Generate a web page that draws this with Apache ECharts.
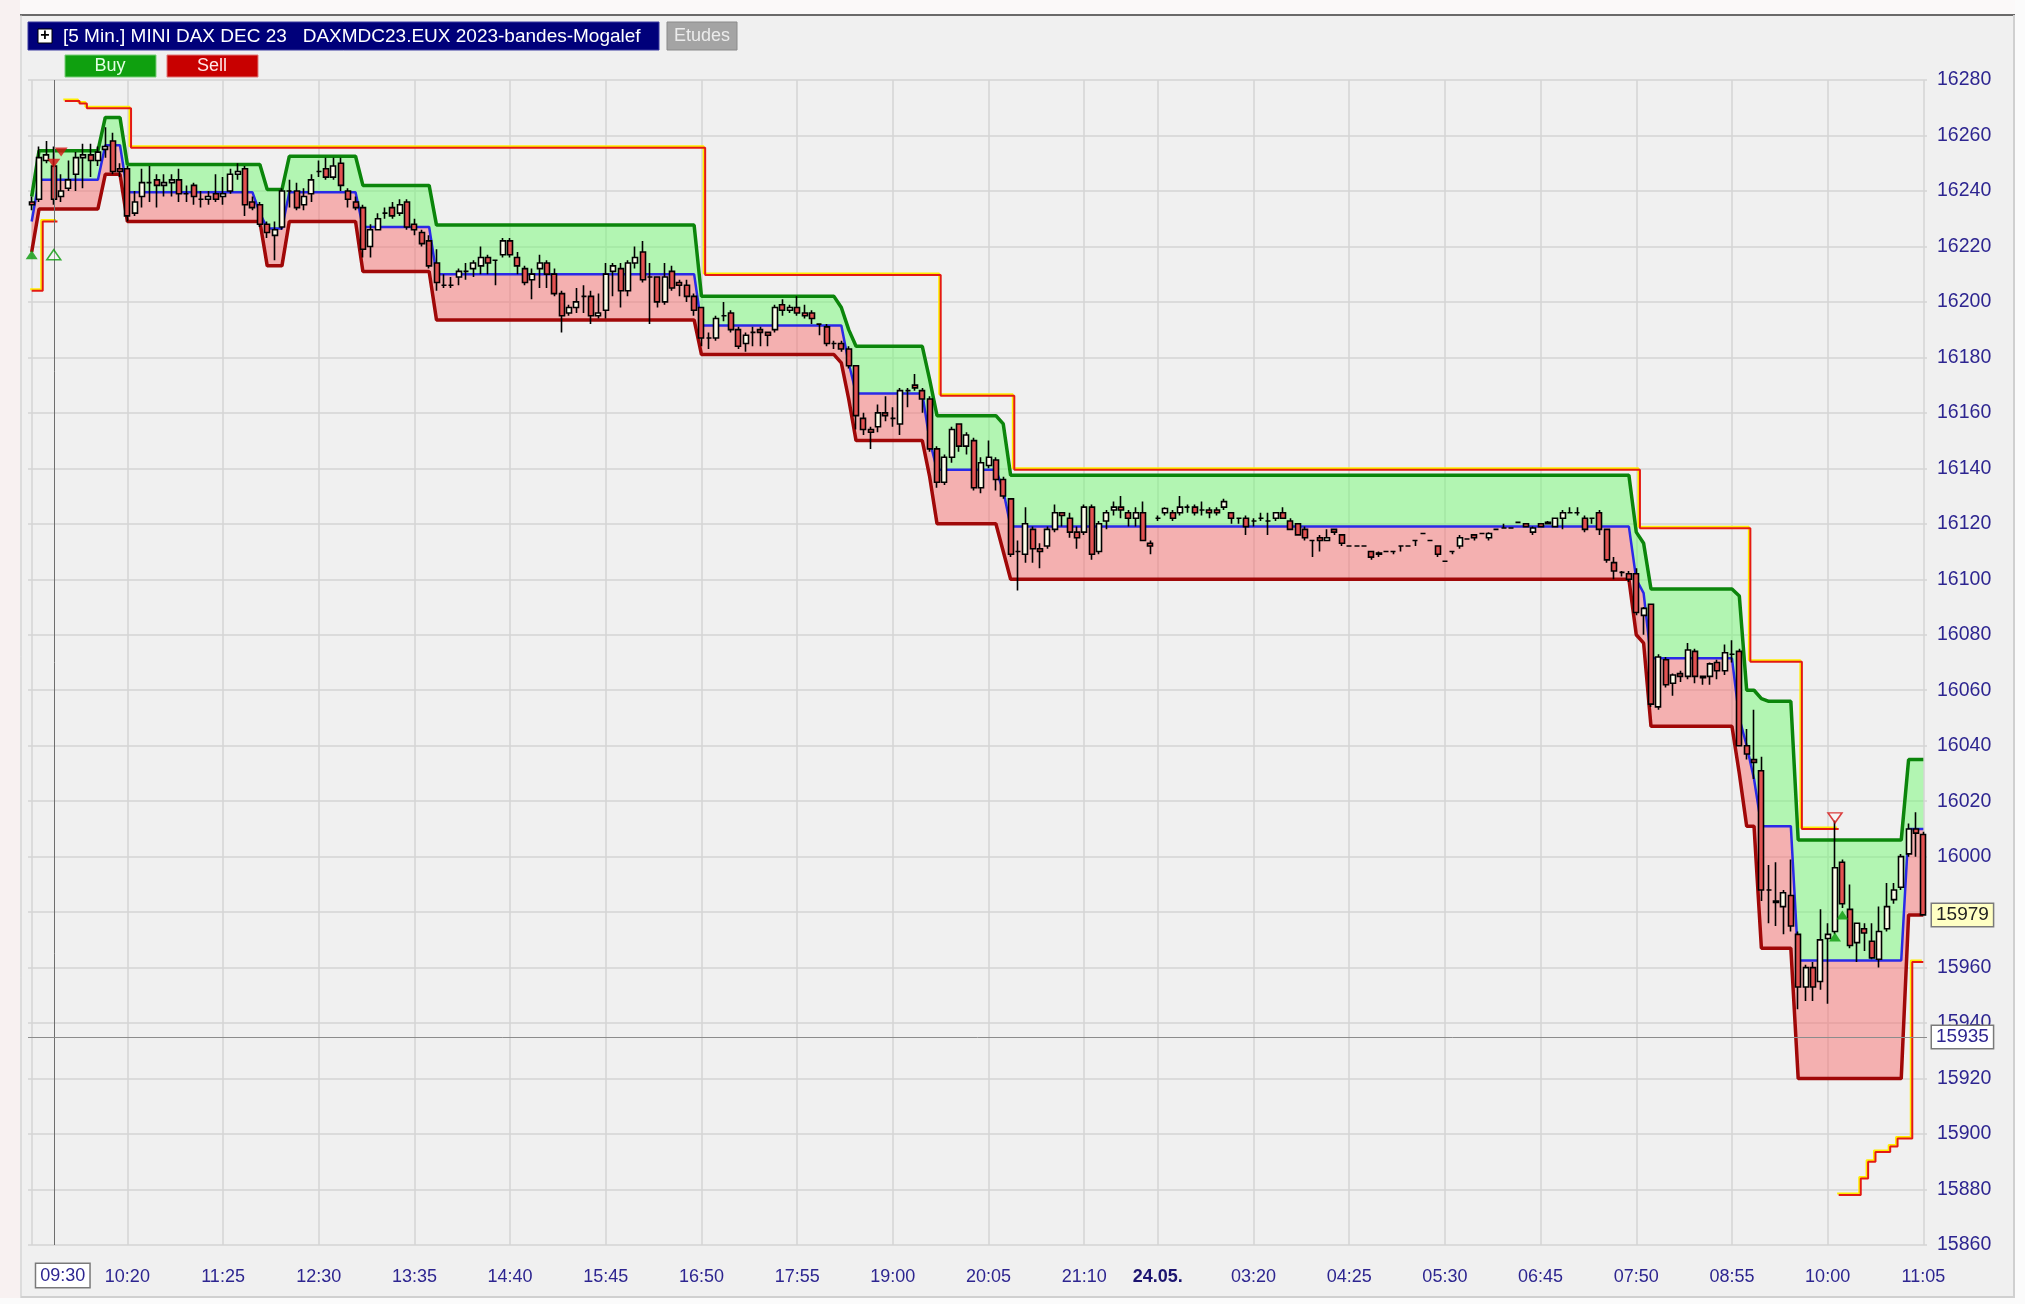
<!DOCTYPE html>
<html lang="fr">
<head>
<meta charset="UTF-8">
<title>MINI DAX DEC 23 - bandes Mogalef</title>
<script src="https://cdn.jsdelivr.net/npm/echarts@6/dist/echarts.min.js"></script>
<style>
    html, body {
        margin: 0;
        padding: 0;
        background: #f7f4f4;
    }

    #chart {
        width: 2025px;
        height: 1304px;
    }
</style>
</head>
<body>
<div id="chart"></div>
<script>
    // 5 min sessions: [first bar, number of bars]
    const sessions = [['09:15', 153], ['02:15', 40], ['05:45', 65]];
    const labelBars = [13, 26, 39, 52, 65, 78, 91, 104, 117, 130, 143, 153, 166, 179, 192, 205, 218, 231, 244, 257];
    const gridBars = [0].concat(labelBars);
    const dateBar = 153;
    const dateLabel = '24.05.';

    // candles: [open, close, low, high]
    const candlesMorning = [
        [16236, 16235, 16233, 16238], [16237, 16252, 16236, 16256], [16251, 16253, 16250, 16258], [16249, 16237, 16235, 16256],
        [16238, 16240, 16236, 16246], [16241, 16244, 16240, 16251], [16246, 16252, 16240, 16254], [16252, 16253, 16241, 16257],
        [16253, 16251, 16245, 16257], [16251, 16254, 16249, 16256], [16255, 16256, 16252, 16263], [16258, 16247, 16246, 16261],
        [16248, 16247, 16245, 16250], [16248, 16231, 16229, 16249], [16232, 16236, 16231, 16240], [16238, 16243, 16234, 16248],
        [16243, 16243, 16236, 16249], [16244, 16242, 16234, 16246], [16242, 16243, 16238, 16246], [16243, 16244, 16238, 16246],
        [16244, 16239, 16236, 16248], [16239, 16239, 16236, 16242], [16242, 16238, 16235, 16243], [16237, 16237, 16234, 16240],
        [16237, 16238, 16235, 16240], [16239, 16237, 16236, 16246], [16238, 16239, 16235, 16245], [16240, 16246, 16239, 16248],
        [16246, 16247, 16244, 16250], [16248, 16235, 16231, 16249], [16236, 16234, 16233, 16238], [16235, 16228, 16227, 16236],
        [16228, 16225, 16223, 16229], [16224, 16226, 16215, 16229], [16227, 16240, 16226, 16241], [16240, 16240, 16234, 16244],
        [16240, 16234, 16233, 16243], [16235, 16238, 16233, 16241], [16239, 16244, 16236, 16246], [16247, 16247, 16245, 16251],
        [16248, 16245, 16244, 16252], [16245, 16249, 16244, 16252], [16250, 16242, 16240, 16252], [16240, 16237, 16234, 16241],
        [16236, 16234, 16233, 16238], [16234, 16219, 16216, 16235], [16220, 16226, 16216, 16228], [16226, 16230, 16226, 16232],
        [16232, 16232, 16230, 16234], [16234, 16231, 16230, 16236], [16232, 16235, 16231, 16237], [16236, 16227, 16226, 16237],
        [16228, 16226, 16224, 16230], [16225, 16221, 16220, 16226], [16222, 16213, 16212, 16224], [16214, 16207, 16204, 16219],
        [16206, 16206, 16205, 16210], [16206, 16206, 16205, 16209], [16209, 16211, 16206, 16212], [16211, 16211, 16208, 16214],
        [16212, 16214, 16209, 16215], [16213, 16216, 16210, 16220], [16216, 16214, 16210, 16217], [16215, 16215, 16206, 16215],
        [16217, 16222, 16216, 16223], [16222, 16217, 16216, 16223], [16216, 16213, 16210, 16218], [16212, 16207, 16206, 16213],
        [16208, 16210, 16201, 16212], [16212, 16214, 16205, 16217], [16214, 16210, 16205, 16215], [16210, 16203, 16202, 16212],
        [16203, 16195, 16189, 16204], [16196, 16198, 16195, 16199], [16198, 16200, 16196, 16205], [16202, 16202, 16196, 16206],
        [16202, 16195, 16192, 16204]
    ];
    const candlesEvening = [
        [16195, 16196, 16194, 16203], [16197, 16210, 16194, 16214], [16211, 16213, 16202, 16214], [16212, 16204, 16198, 16214],
        [16204, 16214, 16202, 16215], [16214, 16216, 16212, 16220], [16218, 16208, 16207, 16222], [16209, 16209, 16192, 16214],
        [16209, 16200, 16198, 16209], [16200, 16209, 16199, 16214], [16211, 16205, 16204, 16213], [16207, 16206, 16202, 16208],
        [16206, 16202, 16200, 16208], [16202, 16197, 16195, 16203], [16198, 16187, 16184, 16198], [16187, 16187, 16183, 16189],
        [16187, 16194, 16186, 16195], [16195, 16195, 16193, 16200], [16196, 16190, 16189, 16197], [16190, 16184, 16183, 16191],
        [16185, 16188, 16182, 16189], [16189, 16189, 16184, 16191], [16190, 16189, 16184, 16191], [16189, 16188, 16184, 16189],
        [16190, 16198, 16189, 16199], [16199, 16197, 16195, 16201], [16197, 16198, 16196, 16199], [16198, 16196, 16195, 16202],
        [16196, 16195, 16194, 16199], [16196, 16194, 16192, 16197], [16192, 16192, 16188, 16192], [16191, 16185, 16184, 16192],
        [16185, 16185, 16183, 16186], [16185, 16183, 16182, 16186], [16183, 16177, 16176, 16184], [16177, 16159, 16154, 16177],
        [16158, 16154, 16152, 16160], [16154, 16153, 16147, 16155], [16155, 16160, 16153, 16163], [16160, 16159, 16157, 16166],
        [16158, 16158, 16155, 16162], [16156, 16168, 16152, 16169], [16168, 16168, 16162, 16169], [16170, 16169, 16168, 16174],
        [16168, 16165, 16160, 16169], [16165, 16147, 16146, 16166], [16147, 16135, 16133, 16148], [16135, 16144, 16134, 16145],
        [16144, 16154, 16142, 16155], [16156, 16148, 16146, 16156], [16148, 16152, 16145, 16153], [16150, 16133, 16132, 16151],
        [16133, 16142, 16131, 16144], [16141, 16144, 16140, 16150], [16143, 16136, 16132, 16144], [16136, 16130, 16129, 16137],
        [16129, 16109, 16108, 16129], [16110, 16110, 16096, 16114], [16109, 16120, 16106, 16126], [16118, 16111, 16106, 16119],
        [16111, 16110, 16104, 16113], [16112, 16118, 16111, 16119], [16118, 16124, 16117, 16127], [16124, 16123, 16119, 16124],
        [16122, 16117, 16115, 16124], [16117, 16115, 16111, 16119], [16117, 16126, 16116, 16127], [16126, 16109, 16107, 16127],
        [16110, 16120, 16109, 16121], [16121, 16124, 16118, 16125], [16125, 16126, 16123, 16128], [16126, 16125, 16122, 16130],
        [16124, 16122, 16119, 16125], [16122, 16124, 16119, 16126], [16124, 16114, 16114, 16128], [16113, 16112, 16109, 16114]
    ];
    const candlesNight = [
        [16122, 16122, 16121, 16123], [16124, 16125.5, 16123, 16126], [16124, 16122, 16121, 16125], [16124, 16126, 16123, 16130],
        [16126, 16126, 16124, 16127], [16126, 16124, 16123, 16127], [16125, 16125, 16123, 16128], [16125, 16124, 16122, 16126],
        [16125, 16124, 16123, 16126], [16126, 16128, 16125, 16129], [16124, 16122, 16120, 16124], [16122, 16122, 16120, 16122],
        [16122, 16119, 16116, 16123], [16121, 16121, 16119, 16122], [16122, 16122, 16121, 16124], [16121, 16121, 16116, 16124],
        [16122, 16124, 16121, 16124], [16124, 16122, 16122, 16126], [16121, 16118, 16118, 16122], [16120, 16116, 16116, 16120],
        [16118, 16115, 16114, 16119], [16114, 16114, 16108, 16114], [16115, 16114, 16110, 16116], [16114, 16115, 16114, 16118],
        [16118, 16117, 16116, 16118], [16116, 16113, 16112, 16116], [16112, 16112, 16112, 16112], [16112, 16112, 16112, 16112],
        [16112, 16112, 16112, 16112], [16110, 16108, 16107, 16110], [16109.5, 16109, 16108, 16110], [16110, 16110, 16110, 16110],
        [16110, 16110, 16109, 16110], [16112, 16112, 16110, 16112], [16112, 16112, 16112, 16112], [16114, 16114, 16112, 16114],
        [16116.5, 16116.5, 16116.5, 16116.5], [16114, 16114, 16114, 16114], [16112, 16109, 16108, 16112], [16106.5, 16106.5, 16106.5, 16106.5],
        [16110, 16110, 16109, 16110], [16112, 16115, 16111, 16116], [16114.5, 16114.5, 16114.5, 16114.5], [16116, 16115, 16114, 16116],
        [16116.5, 16116.5, 16116.5, 16116.5], [16115, 16116.5, 16114, 16117], [16118, 16118, 16118, 16118], [16118.5, 16118.5, 16118.5, 16120],
        [16118.5, 16118.5, 16118.5, 16118.5], [16120.5, 16120.5, 16120.5, 16120.5], [16120, 16119, 16119, 16120], [16117, 16118.5, 16116, 16119]
    ];
    const candlesNextDay = [
        [16120, 16119, 16119, 16120], [16120, 16120.5, 16120, 16121], [16119, 16122, 16119, 16122], [16122, 16124, 16118, 16125],
        [16124, 16124, 16124, 16126], [16124, 16124, 16123, 16126], [16122, 16118, 16117, 16123], [16122, 16122, 16120, 16122],
        [16124, 16118, 16116, 16125], [16118, 16107, 16106, 16118], [16106, 16103, 16100, 16108], [16102.5, 16102.5, 16101, 16103],
        [16102, 16100, 16099, 16103], [16102, 16088, 16087, 16104], [16087, 16089.5, 16080, 16090], [16091, 16055, 16054, 16091],
        [16054, 16072, 16053, 16073], [16071, 16062, 16061, 16072], [16062.5, 16065.5, 16058, 16066], [16066, 16065, 16063, 16067],
        [16065, 16074.5, 16064, 16077], [16074, 16065, 16062.5, 16075], [16065, 16064.5, 16062, 16065], [16065, 16069.5, 16062, 16070],
        [16070, 16067, 16064, 16071], [16067, 16073.5, 16065.5, 16076.5], [16073, 16073, 16070, 16078], [16074, 16040, 16040, 16075],
        [16040, 16037, 16035, 16046], [16035, 16034, 16028, 16053], [16031, 15988, 15984, 16036], [15988, 15988, 15976, 15997],
        [15984, 15983.5, 15975, 15998], [15982, 15987, 15972, 15988], [15986, 15975, 15973, 15999], [15972, 15953, 15945, 15973],
        [15953, 15960, 15948, 15961], [15960, 15953, 15948, 15962], [15955, 15970, 15952, 15981], [15970.5, 15972, 15947, 15976],
        [15973, 15996, 15972, 16013], [15998, 15983, 15981.5, 15999], [15981, 15968, 15967, 15990], [15969, 15976, 15962, 15976],
        [15974, 15972.5, 15966, 15976], [15969.5, 15963.5, 15963, 15976], [15963, 15973, 15960, 15982], [15974, 15982, 15973, 15990.5],
        [15984.5, 15988, 15983, 15990.5], [15989, 16000, 15988, 16001], [16001, 16010, 16000, 16012], [16010, 16008.5, 16000, 16016],
        [16008, 15979, 15979, 16009]
    ];

    // Mogalef bands, as runs [first bar, last bar, value]
    const upperRuns = [
        [0, 0, 16238], [1, 9, 16254.5], [10, 12, 16266.5], [13, 31, 16249.5], [32, 34, 16240.5], [35, 44, 16252.5],
        [45, 54, 16242], [55, 90, 16227.7], [91, 109, 16202], [110, 110, 16198], [111, 111, 16190], [112, 121, 16184],
        [122, 122, 16172], [123, 131, 16159], [132, 132, 16156], [133, 217, 16137.5], [218, 218, 16117], [219, 219, 16113],
        [220, 231, 16096.5], [232, 232, 16094], [233, 234, 16060], [235, 235, 16057], [236, 239, 16056], [240, 254, 16006],
        [255, 257, 16035]
    ];
    const middleRuns = [
        [0, 0, 16229], [1, 9, 16244], [10, 12, 16256.5], [13, 30, 16239.5], [31, 31, 16232], [32, 34, 16226.5],
        [35, 44, 16239.5], [45, 54, 16227], [55, 90, 16210], [91, 110, 16191.5], [111, 111, 16178], [112, 121, 16167],
        [122, 122, 16150], [123, 131, 16139.5], [132, 132, 16132], [133, 217, 16119], [218, 218, 16100], [219, 219, 16095],
        [220, 231, 16071.5], [232, 232, 16050], [233, 233, 16040], [234, 234, 16028], [235, 239, 16011], [240, 254, 15962.6],
        [255, 257, 16010]
    ];
    const lowerRuns = [
        [0, 0, 16218], [1, 9, 16233.5], [10, 12, 16246], [13, 31, 16229], [32, 34, 16213], [35, 44, 16229],
        [45, 54, 16211], [55, 90, 16193.5], [91, 109, 16181], [110, 110, 16178], [111, 111, 16165], [112, 121, 16150],
        [122, 122, 16137], [123, 131, 16120], [132, 132, 16110], [133, 217, 16100], [218, 218, 16080], [219, 219, 16077],
        [220, 231, 16047], [232, 232, 16030], [233, 234, 16011], [235, 239, 15967], [240, 254, 15920], [255, 257, 15979]
    ];

    // trailing stop, one list per unbroken piece
    const stopRuns = [
        [[0, 1, 16204], [2, 3, 16229]],
        [[5, 6, 16272.4], [7, 7, 16271.5], [8, 13, 16269.8], [14, 91, 16255.6], [92, 123, 16209.7], [124, 133, 16166.2],
            [134, 218, 16139.5], [219, 233, 16118.4], [234, 240, 16070.3], [241, 245, 16010]],
        [[246, 248, 15878], [249, 249, 15884], [250, 250, 15890], [251, 252, 15893.5], [253, 253, 15895.5],
            [254, 255, 15898.4], [256, 257, 15962]]
    ];

    const buyFilled = [[0, 16217], [246, 15979], [245, 15971]];
    const buyHollow = [[3, 16217]];
    const sellFilled = [[4, 16254], [3, 16250]];
    const sellHollow = [[245, 16014]];

    const cursorBar = 3;
    const cursorPrice = 15935;
    const lastPrice = 15979;

    function pad(n) {
        return (n < 10 ? '0' : '') + n;
    }

    const times = [];
    sessions.forEach(function (s) {
        const parts = s[0].split(':');
        const t0 = Number(parts[0]) * 60 + Number(parts[1]);
        for (let k = 0; k < s[1]; k++) {
            const t = (t0 + 5 * k) % 1440;
            times.push(pad(Math.floor(t / 60)) + ':' + pad(t % 60));
        }
    });

    const candles = candlesMorning.concat(candlesEvening, candlesNight, candlesNextDay);
    const nBars = candles.length;

    function expand(runs) {
        const out = new Array(nBars).fill(null);
        runs.forEach(function (r) {
            for (let i = r[0]; i <= r[1]; i++) out[i] = r[2];
        });
        return out;
    }

    const upper = expand(upperRuns);
    const middle = expand(middleRuns);
    const lower = expand(lowerRuns);
    const pinkPart = middle.map((v, i) => v - lower[i]);
    const greenPart = upper.map((v, i) => v - middle[i]);

    const labelSet = new Set(labelBars);
    const txt = '#2d2590';
    const font = '"Liberation Sans", Arial, sans-serif';

    const stopSeries = stopRuns.map(function (runs) {
        return {
            type: 'line',
            data: expand(runs),
            step: 'middle',
            symbol: 'none',
            connectNulls: false,
            lineStyle: {
                color: '#e41a12', width: 2,
                shadowColor: '#ffee00', shadowBlur: 0, shadowOffsetX: -1.5, shadowOffsetY: -1.5
            },
            z: 3
        };
    });

    const chart = echarts.init(document.getElementById('chart'));
    chart.setOption({
        animation: false,
        backgroundColor: '#f0f0f0',
        textStyle: {fontFamily: font},
        grid: {left: 28, right: 98, top: 80, bottom: 59},
        xAxis: {
            type: 'category',
            data: times,
            boundaryGap: true,
            axisLine: {show: false},
            axisTick: {show: false},
            splitLine: {show: false},
            axisLabel: {
                interval: (i) => labelSet.has(i),
                margin: 23,
                color: txt,
                fontSize: 18,
                fontFamily: font,
                formatter: (v, i) => i === dateBar ? '{d|' + dateLabel + '}' : v,
                rich: {d: {fontWeight: 'bold', fontSize: 18, color: '#1c1470', fontFamily: font}}
            }
        },
        yAxis: {
            type: 'value',
            position: 'right',
            min: 15860,
            max: 16280,
            interval: 20,
            axisLine: {show: false},
            axisTick: {show: false},
            axisLabel: {margin: 10, color: txt, fontSize: 19.5, fontFamily: font, formatter: (v) => String(v)},
            splitLine: {lineStyle: {color: '#d5d5d5', width: 1.5}}
        },
        graphic: [
            {type: 'rect', shape: {x: 0, y: 0, width: 2025, height: 14}, style: {fill: '#fbf9f9'}, silent: true},
            {type: 'rect', shape: {x: 0, y: 0, width: 20, height: 1304}, style: {fill: '#f8f1f1'}, silent: true},
            {type: 'rect', shape: {x: 2015, y: 0, width: 10, height: 1304}, style: {fill: '#fbfbfb'}, silent: true},
            {type: 'rect', shape: {x: 0, y: 1298, width: 2025, height: 6}, style: {fill: '#fbfbfb'}, silent: true},
            {type: 'line', shape: {x1: 20, y1: 15, x2: 2015, y2: 15}, style: {stroke: '#6a6a6a', lineWidth: 2}, silent: true},
            {type: 'line', shape: {x1: 21, y1: 15, x2: 21, y2: 1298}, style: {stroke: '#c8c8c8', lineWidth: 1}, silent: true},
            {type: 'line', shape: {x1: 2014, y1: 15, x2: 2014, y2: 1298}, style: {stroke: '#d0d0d0', lineWidth: 2}, silent: true},
            {type: 'line', shape: {x1: 21, y1: 1297, x2: 2015, y2: 1297}, style: {stroke: '#d0d0d0', lineWidth: 2}, silent: true},
            {type: 'rect', shape: {x: 28, y: 22, width: 631, height: 28}, style: {fill: '#00007a', stroke: '#3a3aa0', lineWidth: 1}},
            {type: 'rect', shape: {x: 38, y: 29, width: 14, height: 14}, style: {fill: '#ffffff', stroke: '#000000', lineWidth: 1}},
            {type: 'text', x: 45, y: 36, style: {text: '+', fill: '#000', font: 'bold 16px ' + font, align: 'center', verticalAlign: 'middle'}},
            {type: 'text', x: 63, y: 36.5, style: {text: '[5 Min.] MINI DAX DEC 23   DAXMDC23.EUX 2023-bandes-Mogalef', fill: '#ffffff', font: '19px ' + font, verticalAlign: 'middle'}},
            {type: 'rect', shape: {x: 667, y: 22, width: 70, height: 28}, style: {fill: '#a4a4a4', stroke: '#8a8a8a', lineWidth: 1}},
            {type: 'text', x: 702, y: 36.5, style: {text: 'Etudes', fill: '#ececec', font: '18px ' + font, align: 'center', verticalAlign: 'middle'}},
            {type: 'rect', shape: {x: 65, y: 55, width: 91, height: 22}, style: {fill: '#0fa00f', stroke: '#7acd7a', lineWidth: 1}},
            {type: 'text', x: 110, y: 66.5, style: {text: 'Buy', fill: '#e4ffe4', font: '18px ' + font, align: 'center', verticalAlign: 'middle'}},
            {type: 'rect', shape: {x: 167, y: 55, width: 91, height: 22}, style: {fill: '#c80000', stroke: '#e07a7a', lineWidth: 1}},
            {type: 'text', x: 212, y: 66.5, style: {text: 'Sell', fill: '#ffe6e6', font: '18px ' + font, align: 'center', verticalAlign: 'middle'}}
        ],
        series: [
            {
                name: 'base',
                type: 'line',
                stack: 'band',
                data: lower,
                symbol: 'none',
                lineStyle: {opacity: 0},
                markLine: {
                    silent: true,
                    z: 1,
                    symbol: ['none', 'none'],
                    label: {show: false},
                    lineStyle: {color: '#d5d5d5', width: 1.5, type: 'solid'},
                    data: gridBars.map(i => ({xAxis: i}))
                }
            },
            {
                type: 'line', stack: 'band', data: pinkPart, symbol: 'none',
                lineStyle: {opacity: 0}, areaStyle: {color: 'rgba(248,112,112,0.5)', opacity: 1}
            },
            {
                type: 'line', stack: 'band', data: greenPart, symbol: 'none',
                lineStyle: {opacity: 0}, areaStyle: {color: 'rgba(116,250,116,0.5)', opacity: 1}
            },
            {type: 'line', data: middle, symbol: 'none', lineStyle: {color: '#2a2ae6', width: 2.5}},
            {type: 'line', data: upper, symbol: 'none', lineStyle: {color: '#0b850b', width: 3.5}},
            {type: 'line', data: lower, symbol: 'none', lineStyle: {color: '#a00808', width: 3.5}}
        ].concat(stopSeries, [
            {
                type: 'candlestick',
                data: candles,
                barWidth: 5.5,
                itemStyle: {
                    color: '#fdfdea',
                    color0: '#e35252',
                    borderColor: '#000000',
                    borderColor0: '#000000',
                    borderWidth: 1.6
                },
                z: 4,
                markLine: {
                    silent: true,
                    symbol: ['none', 'none'],
                    z: 6,
                    data: [
                        {
                            xAxis: cursorBar,
                            lineStyle: {color: '#6e6e6e', width: 1, type: 'solid'},
                            label: {
                                show: true, position: 'start', formatter: times[cursorBar], distance: 19, offset: [9, 0],
                                color: txt, fontSize: 18, fontFamily: font, backgroundColor: '#ffffff',
                                borderColor: '#7a7a7a', borderWidth: 1.5, padding: [3, 4, 2, 4]
                            }
                        },
                        {
                            yAxis: cursorPrice,
                            lineStyle: {color: '#8c8c8c', width: 1, type: 'solid'},
                            label: {
                                show: true, position: 'end', formatter: String(cursorPrice), distance: 5,
                                color: txt, fontSize: 19, fontFamily: font, backgroundColor: '#ffffff',
                                borderColor: '#7a7a7a', borderWidth: 1.5, padding: [2, 4, 1, 4]
                            }
                        },
                        {
                            yAxis: lastPrice,
                            lineStyle: {color: 'rgba(0,0,0,0)', width: 0},
                            label: {
                                show: true, position: 'end', formatter: String(lastPrice), distance: 5,
                                color: '#222222', fontSize: 19, fontFamily: font, backgroundColor: '#ffffc4',
                                borderColor: '#7a7a7a', borderWidth: 1.5, padding: [2, 4, 1, 4]
                            }
                        }
                    ]
                }
            },
            {
                type: 'scatter', data: buyFilled, symbol: 'triangle', symbolSize: [12, 9], z: 7,
                itemStyle: {color: '#0a9a0a'}
            },
            {
                type: 'scatter', data: buyHollow, symbol: 'triangle', symbolSize: [14, 10], z: 7,
                itemStyle: {color: 'rgba(255,255,255,0.4)', borderColor: '#0a9a0a', borderWidth: 1.5}
            },
            {
                type: 'scatter', data: sellFilled, symbol: 'triangle', symbolRotate: 180, symbolSize: [13, 9], z: 7,
                itemStyle: {color: '#d41010'}
            },
            {
                type: 'scatter', data: sellHollow, symbol: 'triangle', symbolRotate: 180, symbolSize: [14, 10], z: 7,
                itemStyle: {color: 'rgba(255,255,255,0.4)', borderColor: '#d41010', borderWidth: 1.5}
            }
        ])
    });
</script>
</body>
</html>
